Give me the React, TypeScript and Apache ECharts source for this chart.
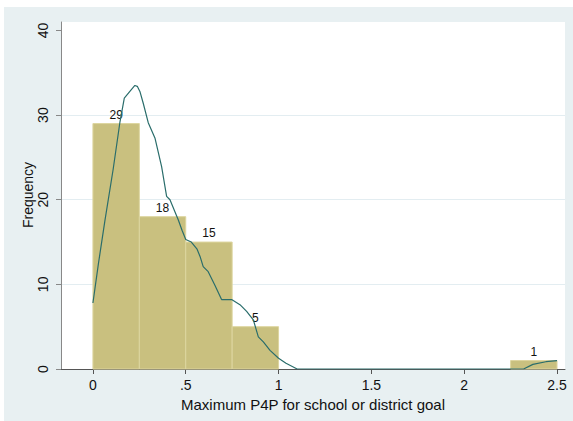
import React, { useEffect, useRef } from "react";
import * as echarts from "echarts";

// Histogram bins: [start, end, frequency]
const binStarts = [0, 0.25, 0.5, 0.75, 2.25];
const binEnds = [0.25, 0.5, 0.75, 1.0, 2.5];
const frequencies = [29, 18, 15, 5, 1];

// Kernel density curve scaled to frequency
const densityX = [0, 0.03, 0.065, 0.109, 0.145, 0.169, 0.199, 0.226, 0.239, 0.253, 0.271, 0.298, 0.334, 0.37, 0.397, 0.415, 0.46, 0.48, 0.5, 0.53, 0.56, 0.577, 0.594, 0.621, 0.657, 0.693, 0.747, 0.792, 0.828, 0.864, 0.891, 0.918, 0.954, 1.0, 1.04, 1.1, 2.32, 2.37, 2.44, 2.5];
const densityY = [7.8, 12.5, 17.6, 23.6, 29.1, 32.0, 32.8, 33.5, 33.4, 32.8, 31.4, 29.1, 27.3, 23.9, 20.4, 20.0, 17.6, 16.4, 15.3, 15.0, 14.2, 13.3, 12.1, 11.5, 9.9, 8.2, 8.2, 7.6, 6.8, 5.8, 3.8, 3.2, 2.2, 1.27, 0.67, 0.0, 0.0, 0.55, 0.86, 0.98];

const xTicks = [0, 0.5, 1, 1.5, 2, 2.5];
const yTicks = [0, 10, 20, 30, 40];
const yGridLines = [10, 20, 30];

const FONT = "'Liberation Sans', Arial, sans-serif";

export default function App() {
  const ref = useRef<HTMLDivElement>(null);
  useEffect(() => {
    if (!ref.current) return;
    const chart = echarts.init(ref.current, undefined, { renderer: "svg" });
    const bins = binStarts.map((s, i) => [s, binEnds[i], frequencies[i]]);
    const density = densityX.map((x, i) => [x, densityY[i]]);
    chart.setOption({
      animation: false,
      backgroundColor: "#e8f0f2",
      grid: {
        left: 57,
        top: 15,
        right: 8,
        bottom: 52,
        show: true,
        backgroundColor: "#ffffff",
        borderWidth: 0,
      },
      graphic: [
        {
          type: "text",
          x: 24,
          y: 188,
          rotation: Math.PI / 2,
          style: {
            text: "Frequency",
            align: "center",
            verticalAlign: "middle",
            fontFamily: FONT,
            fontSize: 14,
            fill: "#111",
          },
        },
      ],
      xAxis: {
        type: "value",
        min: -0.172,
        max: 2.543,
        name: "Maximum P4P for school or district goal",
        nameLocation: "middle",
        nameGap: 23,
        nameTextStyle: { fontFamily: FONT, fontSize: 15, color: "#111" },
        axisLine: { show: true, onZero: false, lineStyle: { color: "#555", width: 1 } },
        axisTick: { show: true, customValues: xTicks, length: 5, lineStyle: { color: "#555" } },
        axisLabel: {
          customValues: xTicks,
          fontFamily: FONT,
          fontSize: 14,
          color: "#111",
          margin: 9,
          formatter: (v: number) => (v === 0 ? "0" : v < 1 ? String(v).replace(/^0/, "") : String(v)),
        },
        splitLine: { show: false },
      },
      yAxis: {
        type: "value",
        min: 0,
        max: 41,
        axisLine: { show: true, onZero: false, lineStyle: { color: "#888", width: 1 } },
        axisTick: { show: true, customValues: yTicks, length: 5, lineStyle: { color: "#888" } },
        axisLabel: {
          customValues: yTicks,
          rotate: 90,
          fontFamily: FONT,
          fontSize: 14,
          color: "#111",
          margin: 11,
        },
        splitLine: { show: false },
      },
      series: [
        {
          type: "custom",
          data: bins,
          renderItem: (params: any, api: any) => {
            const x0 = api.value(0);
            const x1 = api.value(1);
            const f = api.value(2);
            const p0 = api.coord([x0, 0]);
            const p1 = api.coord([x1, f]);
            return {
              type: "group",
              children: [
                {
                  type: "rect",
                  shape: { x: p0[0], y: p1[1], width: p1[0] - p0[0], height: p0[1] - p1[1] },
                  style: { fill: "#c9c07f", stroke: "#ddd59f", lineWidth: 1 },
                },
                {
                  type: "text",
                  style: {
                    text: String(f),
                    x: (p0[0] + p1[0]) / 2,
                    y: p1[1] - 3,
                    align: "center",
                    verticalAlign: "bottom",
                    fontFamily: FONT,
                    fontSize: 12,
                    fill: "#111",
                  },
                },
              ],
            };
          },
          markLine: {
            silent: true,
            symbol: "none",
            label: { show: false },
            lineStyle: { color: "#e3edf1", type: "solid", width: 1 },
            data: yGridLines.map((v) => ({ yAxis: v })),
            z: 0,
          },
          z: 2,
        },
        {
          type: "line",
          data: density,
          showSymbol: false,
          symbol: "none",
          lineStyle: { color: "#2a6d6b", width: 1.2 },
          z: 3,
        },
      ],
    });
    return () => chart.dispose();
  }, []);
  return (
    <div style={{ position: "fixed", left: 0, top: 0, width: 573, height: 421, background: "#ffffff" }}>
      <div ref={ref} style={{ position: "absolute", left: 4, top: 7, width: 569, height: 414 }} />
    </div>
  );
}
